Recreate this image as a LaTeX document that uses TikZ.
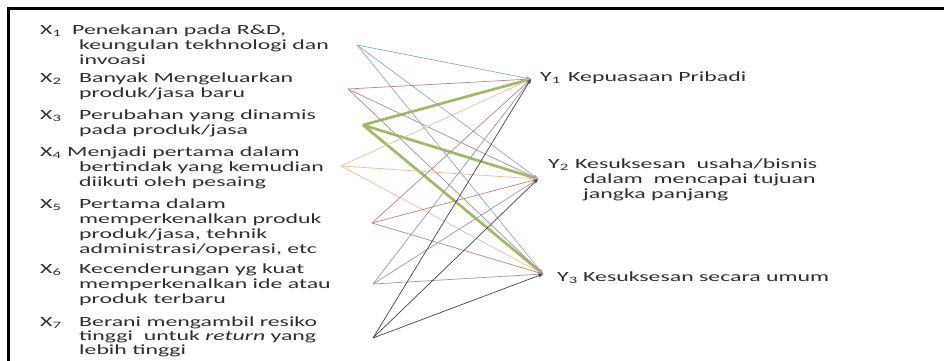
\documentclass[tikz,border=0pt]{standalone}
\usepackage{fontspec}
\newfontfamily\widesans{Carlito}[FakeStretch=1.7]
\usepackage{tikz}
\usetikzlibrary{arrows.meta}
\definecolor{lineblue}{HTML}{8DA8CE}
\definecolor{linemauve}{HTML}{B98591}
\definecolor{linegreen}{HTML}{9DBB62}
\definecolor{linetan}{HTML}{EDBE95}
\definecolor{linered}{HTML}{C47F7D}
\definecolor{linepurple}{HTML}{9F93B2}
\definecolor{linedark}{HTML}{444444}
\definecolor{labeltext}{HTML}{2E2E2E}

\begin{document}
\begin{tikzpicture}[
    x=1pt, y=-1pt,
    item/.style={anchor=north west, inner sep=0pt, align=left, text=labeltext,
                 font=\widesans\fontsize{14}{14.8}\selectfont},
    link/.style={-{Stealth[length=5pt, width=4pt]}, line width=0.7pt, draw=#1},
    strong/.style={-{Stealth[length=5pt, width=4pt]}, line width=2.7pt, draw=linegreen},
]
    \useasboundingbox (0,0) rectangle (944,361);
    \draw[line width=3pt] (8,361) -- (8,9) -- (944,9);

    % Left side: variables X
    \node[item] (xs1) at (40,25) {X\textsubscript{1}};
    \node[item] (xt1) at (79,25) {\hspace*{-7pt}Penekanan pada R\&D,\\keungulan tekhnologi dan\\invoasi};
    \node[item] (xs2) at (40,73) {X\textsubscript{2}};
    \node[item] (xt2) at (79,73) {Banyak Mengeluarkan\\produk/jasa baru};
    \node[item] (xs3) at (40,110) {X\textsubscript{3}};
    \node[item] (xt3) at (79,110) {Perubahan yang dinamis\\pada produk/jasa};
    \node[item] (xs4) at (40,147) {X\textsubscript{4}};
    \node[item] (xt4) at (79,147) {\hspace*{-12pt}Menjadi pertama dalam\\bertindak yang kemudian\\diikuti oleh pesaing};
    \node[item] (xs5) at (40,199) {X\textsubscript{5}};
    \node[item] (xt5) at (79,199) {Pertama dalam\\memperkenalkan produk\\produk/jasa, tehnik\\administrasi/operasi, etc};
    \node[item] (xs6) at (40,264) {X\textsubscript{6}};
    \node[item] (xt6) at (79,264) {Kecenderungan yg kuat\\memperkenalkan ide atau\\produk terbaru};
    \node[item] (xs7) at (40,317) {X\textsubscript{7}};
    \node[item, font=\widesans\fontsize{14}{14}\selectfont] (xt7) at (79,317)
        {Berani mengambil resiko\\tinggi \ untuk \emph{return} yang\\lebih tinggi};

    % Right side: variables Y
    \node[item] (ys1) at (540,72) {Y\textsubscript{1}};
    \node[item] (yt1) at (568,72) {Kepuasaan Pribadi};
    \node[item] (ys2) at (548,159) {Y\textsubscript{2}};
    \node[item] (yt2) at (583,159) {\hspace*{-8pt}Kesuksesan \ usaha/bisnis\\dalam \ mencapai tujuan\\jangka panjang};
    \node[item] (ys3) at (557,272) {Y\textsubscript{3}};
    \node[item] (yt3) at (583,272) {Kesuksesan secara umum};

    % Line end points
    \coordinate (x1) at (357,45);
    \coordinate (x2) at (348,89);
    \coordinate (x3) at (363,125);
    \coordinate (x4) at (341,166);
    \coordinate (x5) at (372,223);
    \coordinate (x6) at (373,284);
    \coordinate (x7) at (373,338);
    \coordinate (y1) at (531,79);
    \coordinate (y2) at (538,179);
    \coordinate (y3) at (543,274);

    % Connectors
    \foreach \j in {1,2,3}
        \draw[strong] (x3) -- (y\j);
    \foreach \i/\c in {1/lineblue, 2/linemauve, 4/linetan, 5/linered, 6/linepurple, 7/linedark}
        \foreach \j in {1,2,3}
            \draw[link=\c] (x\i) -- (y\j);
\end{tikzpicture}
\end{document}
